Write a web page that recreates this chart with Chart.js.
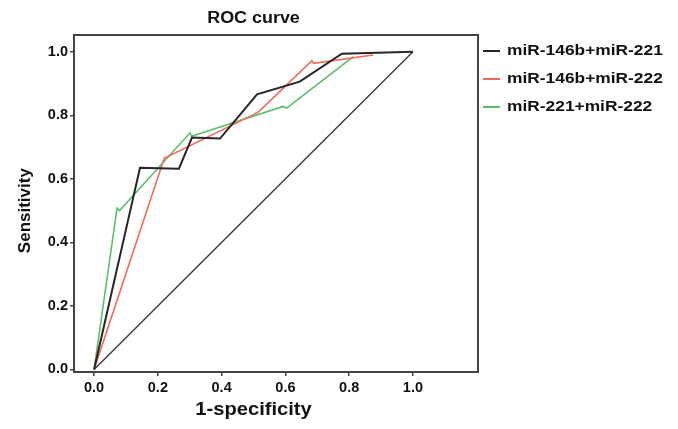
<!DOCTYPE html>
<html>
<head>
<meta charset="utf-8">
<script src="https://cdn.jsdelivr.net/npm/chart.js@4.4.1/dist/chart.umd.min.js"></script>
<style>
  html, body { margin: 0; padding: 0; background: #fff; }
  #wrap { width: 678px; height: 429px; }
</style>
</head>
<body>
<div id="wrap"><canvas id="roc" width="678" height="429"></canvas></div>
<script>
// Valori (1-specificity, sensitivity)
const seriesNames = ['miR-146b+miR-221', 'miR-146b+miR-222', 'miR-221+miR-222'];
const fpr221 = [0, 0.144, 0.266, 0.307, 0.395, 0.511, 0.645, 0.777, 1.0];
const tpr221 = [0, 0.635, 0.632, 0.730, 0.727, 0.866, 0.906, 0.994, 1.0];
const fpr222 = [0, 0.220, 0.515, 0.683, 0.689, 0.875];
const tpr222 = [0, 0.665, 0.810, 0.972, 0.964, 0.990];
const fprMix = [0, 0.072, 0.080, 0.301, 0.306, 0.593, 0.604, 0.813];
const tprMix = [0, 0.508, 0.500, 0.745, 0.734, 0.828, 0.823, 0.985];
const fprRef = [0, 1];
const tprRef = [0, 1];
const tickValues = [0, 0.2, 0.4, 0.6, 0.8, 1.0];
const seriesColors = ['#262626', '#f4695a', '#5cbf6c'];

const toPoints = (xs, ys) => xs.map((x, i) => ({ x: x, y: ys[i] }));

const FONT = '"Liberation Sans", Arial, sans-serif';
const STRETCH = 1.12; // textul din original e usor latit pe orizontala

function stretchedText(ctx, text, x, y, align) {
    ctx.save();
    ctx.translate(x, y);
    ctx.scale(STRETCH, 1);
    ctx.textAlign = align;
    ctx.textBaseline = 'middle';
    ctx.fillText(text, 0, 0);
    ctx.restore();
}

// Rama, titluri si legenda desenate peste chart
const decorPlugin = {
    id: 'decor',
    afterDraw(chart) {
        const { ctx, chartArea: a, scales } = chart;
        const midX = scales.x.getPixelForValue(0.5);
        const midY = scales.y.getPixelForValue(0.5);

        ctx.save();
        ctx.strokeStyle = '#444';
        ctx.lineWidth = 2;
        ctx.strokeRect(a.left, a.top, a.right - a.left, a.bottom - a.top);

        ctx.fillStyle = '#111';
        ctx.font = 'bold 16px ' + FONT;
        stretchedText(ctx, 'ROC curve', midX, 19, 'center');

        ctx.font = 'bold 18px ' + FONT;
        stretchedText(ctx, '1-specificity', midX, 410, 'center');

        ctx.save();
        ctx.translate(25, midY);
        ctx.rotate(-Math.PI / 2);
        ctx.font = 'bold 17px ' + FONT;
        ctx.textAlign = 'center';
        ctx.textBaseline = 'middle';
        ctx.fillText('Sensitivity', 0, 0);
        ctx.restore();

        // legenda
        const legendY = [51, 79, 107];
        ctx.font = 'bold 15.5px ' + FONT;
        seriesNames.forEach((name, i) => {
            ctx.strokeStyle = seriesColors[i];
            ctx.lineWidth = 2;
            ctx.beginPath();
            ctx.moveTo(483, legendY[i]);
            ctx.lineTo(500, legendY[i]);
            ctx.stroke();
            ctx.fillStyle = '#111';
            stretchedText(ctx, name, 507, legendY[i], 'left');
        });
        ctx.restore();
    },
};

const lineSet = (label, data, color, width) => ({
    label: label,
    data: data,
    showLine: true,
    borderColor: color,
    backgroundColor: color,
    borderWidth: width,
    pointRadius: 0,
    tension: 0,
    fill: false,
});

const axisCommon = {
    type: 'linear',
    grid: { drawOnChartArea: false, drawTicks: true, tickLength: 4, color: '#444', lineWidth: 1.5 },
    border: { display: false },
    afterBuildTicks: (scale) => {
        scale.ticks = tickValues.map((v) => ({ value: v }));
    },
    ticks: {
        color: '#111',
        font: { family: FONT, size: 14.5, weight: 'bold' },
        callback: (v) => Number(v).toFixed(1),
    },
};

new Chart(document.getElementById('roc'), {
    type: 'scatter',
    data: {
        datasets: [
            lineSet(seriesNames[0], toPoints(fpr221, tpr221), seriesColors[0], 2),
            lineSet(seriesNames[1], toPoints(fpr222, tpr222), seriesColors[1], 1.6),
            lineSet(seriesNames[2], toPoints(fprMix, tprMix), seriesColors[2], 1.6),
            lineSet('ref', toPoints(fprRef, tprRef), '#3a3a3a', 1.4),
        ],
    },
    options: {
        responsive: false,
        animation: false,
        layout: { padding: { top: 35, right: 200, left: 0, bottom: 0 } },
        plugins: {
            legend: { display: false },
            tooltip: { enabled: false },
        },
        scales: {
            x: {
                ...axisCommon,
                min: -0.063,
                max: 1.204,
                ticks: { ...axisCommon.ticks, padding: 3, maxRotation: 0 },
                afterFit: (scale) => { scale.height = 57; },
            },
            y: {
                ...axisCommon,
                min: -0.008,
                max: 1.053,
                ticks: { ...axisCommon.ticks, padding: 2 },
                afterFit: (scale) => { scale.width = 74; },
            },
        },
    },
    plugins: [decorPlugin],
});
</script>
</body>
</html>
